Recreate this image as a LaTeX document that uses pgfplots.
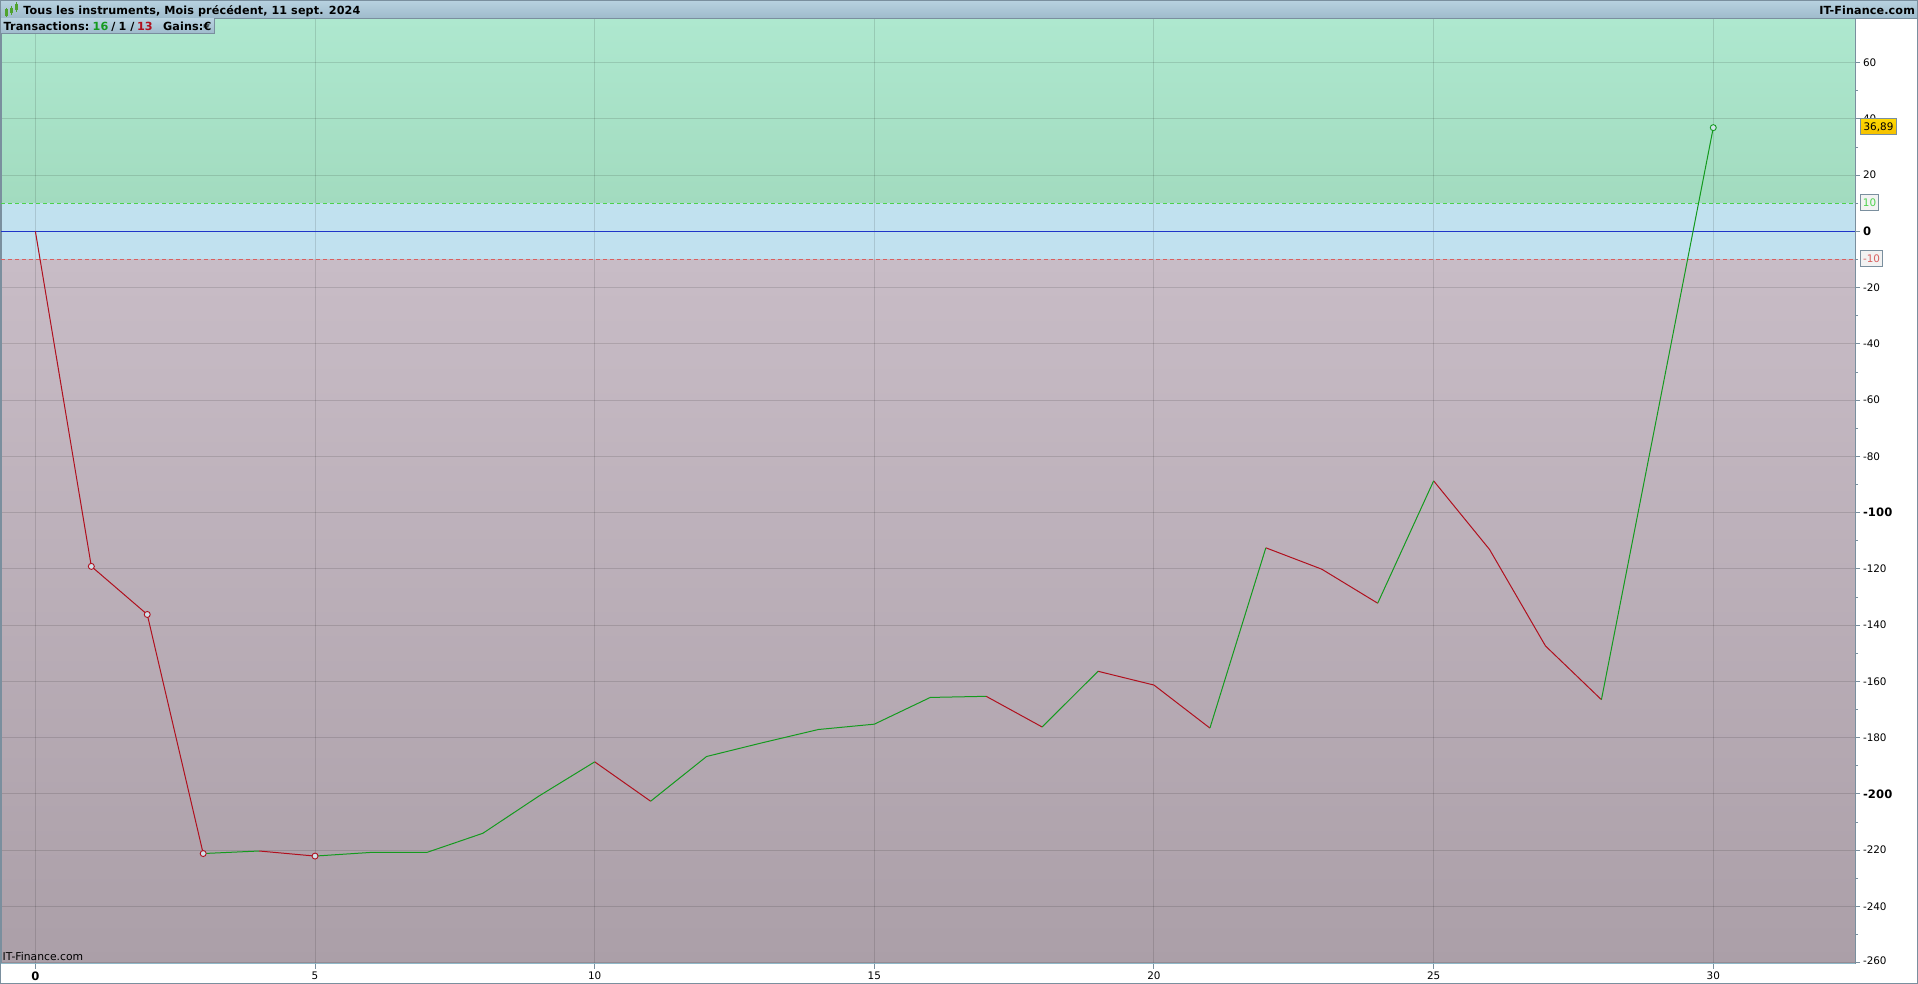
\documentclass[border=0pt]{standalone}
\usepackage{fontspec}
\setmainfont[BoldFeatures={LetterSpace=0.9}]{DejaVu Sans}
\usepackage{pgfplots}
\pgfplotsset{compat=1.18}

\definecolor{frame}{HTML}{7A8F9E}
\definecolor{barTop}{HTML}{B8D2E0}
\definecolor{barBot}{HTML}{9FBBCC}
\definecolor{upTop}{HTML}{AEE8CF}
\definecolor{upBot}{HTML}{A2DBBF}
\definecolor{mid}{HTML}{C1E1EF}
\definecolor{dnTop}{HTML}{C8BCC6}
\definecolor{dnMid}{HTML}{B9ADBA}
\definecolor{dnBot}{HTML}{AB9FA8}
\definecolor{lineUp}{HTML}{149A1E}
\definecolor{lineDn}{HTML}{B0101E}
\definecolor{zero}{HTML}{1F35C8}
\definecolor{limUp}{HTML}{4CD24C}
\definecolor{limDn}{HTML}{D96060}
\definecolor{markFill}{HTML}{CFE2EA}
\definecolor{icon}{HTML}{4FA32F}
\definecolor{baseLine}{HTML}{8FB8C8}
\definecolor{goldTop}{HTML}{FFD900}
\definecolor{goldBot}{HTML}{F5C000}

\newcommand{\smallfont}{\fontsize{5.2}{6}\selectfont}
\newcommand{\headfont}{\fontsize{5.6}{6}\selectfont\bfseries}
\newcommand{\bignum}[1]{{\fontsize{5.8}{6}\selectfont\bfseries #1}}

\begin{document}
\begin{tikzpicture}
\begin{axis}[
    at={(0.5pt,10.1pt)}, anchor=south west,
    scale only axis, width=927pt, height=472.65pt,
    set layers,
    xmin=-0.615, xmax=32.534, ymin=-260.4, ymax=75.7,
    xtick={0,5,...,30},
    xticklabels={\bignum{0},5,10,15,20,25,30},
    ytick={60,40,20,0,-20,-40,-60,-80,-100,-120,-140,-160,-180,-200,-220,-240,-260},
    yticklabels={60,40,20,\bignum{0},-20,-40,-60,-80,\bignum{-100},-120,-140,-160,-180,\bignum{-200},-220,-240,\raisebox{1.8pt}{-260}},
    minor y tick num=1,
    xtick pos=bottom, ytick pos=right, yticklabel pos=right,
    tick align=outside,
    major tick length=2.5pt, minor tick length=1.5pt,
    tick style={frame, line width=0.5pt},
    axis line style={frame, line width=0.5pt},
    grid=major,
    grid style={black, opacity=0.12, line width=0.5pt},
    tick label style={font=\smallfont, inner sep=0pt},
    xticklabel style={yshift=-1.5pt},
    yticklabel style={xshift=1.3pt},
    clip=true,
]
% bands
\addplot[on layer=axis background, draw=none, top color=upTop, bottom color=upBot]
    coordinates {(-0.615,75.7) (32.534,75.7) (32.534,10) (-0.615,10)} --cycle;
\addplot[on layer=axis background, draw=none, fill=mid]
    coordinates {(-0.615,10) (32.534,10) (32.534,-10) (-0.615,-10)} --cycle;
\addplot[on layer=axis background, draw=none, top color=dnTop, middle color=dnMid, bottom color=dnBot]
    coordinates {(-0.615,-10) (32.534,-10) (32.534,-260.4) (-0.615,-260.4)} --cycle;

% limits
\addplot[limUp, line width=0.6pt, dash pattern=on 2.2pt off 1.3pt] coordinates {(-0.615,10) (32.534,10)};
\addplot[limDn, line width=0.6pt, dash pattern=on 2.2pt off 1.3pt] coordinates {(-0.615,-10) (32.534,-10)};
\addplot[zero, line width=0.55pt] coordinates {(-0.615,0) (32.534,0)};

% equity curve, falling and rising parts
\addplot[lineDn, line width=0.5pt, unbounded coords=jump] coordinates {
    (0,0) (1,-119.1) (2,-136.2) (3,-221.2) (3.5,nan)
    (4,-220.3) (5,-222.1) (5.5,nan)
    (10,-188.6) (11,-202.6) (11.5,nan)
    (17,-165.3) (18,-176.2) (18.5,nan)
    (19,-156.4) (20,-161.3) (21,-176.6) (21.5,nan)
    (22,-112.5) (23,-120.1) (24,-132.2) (24.5,nan)
    (25,-88.7) (26,-113.1) (27,-147.4) (28,-166.5)
};
\addplot[lineUp, line width=0.5pt, unbounded coords=jump] coordinates {
    (3,-221.2) (4,-220.3) (4.5,nan)
    (5,-222.1) (6,-220.8) (7,-220.8) (8,-214.0) (9,-200.8) (10,-188.6) (10.5,nan)
    (11,-202.6) (12,-186.7) (13,-181.8) (14,-177.1) (15,-175.2) (16,-165.7) (17,-165.3) (17.5,nan)
    (18,-176.2) (19,-156.4) (19.5,nan)
    (21,-176.6) (22,-112.5) (22.5,nan)
    (24,-132.2) (25,-88.7) (25.5,nan)
    (28,-166.5) (29,-65) (30,36.89)
};
% trade markers
\addplot[only marks, mark=*, mark size=1.5pt, mark options={draw=lineDn, fill=markFill, line width=0.45pt}]
    coordinates {(1,-119.1) (2,-136.2) (3,-221.2) (5,-222.1)};
\addplot[only marks, mark=*, mark size=1.5pt, mark options={draw=lineUp, fill=markFill, line width=0.45pt}]
    coordinates {(30,36.89)};
\end{axis}

% everything below in reference pixels, y downward
\begin{scope}[shift={(0pt,492pt)}, x=0.5pt, y=-0.5pt]
% header bar
\shade[top color=barTop, bottom color=barBot] (0,0) rectangle (1918,18);
\draw[frame, line width=0.5pt] (0,18.3) -- (1918,18.3);
\draw[frame, line width=0.5pt] (0,0.3) -- (1918,0.3);
\foreach \xa/\ya/\yb/\yc/\yd in {6.5/8.3/9.3/16/17.3, 11.5/6/8/13/15, 16.3/2/4/10/12}{
    \draw[icon, line width=0.5pt] (\xa,\ya) -- (\xa,\yd);
    \fill[icon] (\xa-1.6,\yb) rectangle (\xa+1.6,\yc);
}
\node[anchor=base west, inner sep=0pt, font=\headfont] at (23,14.6) {Tous les instruments, Mois précédent, 11 sept. 2024};
\node[anchor=base east, inner sep=0pt, font=\headfont] at (1915.3,14.6) {IT-Finance.com};

% stats box
\shade[top color=barTop, bottom color=barBot] (1,19) rectangle (214.3,33.3);
\draw[frame, line width=0.5pt] (214.3,18.5) -- (214.3,33.3) -- (1,33.3);
\begin{scope}[every node/.style={anchor=base west, inner sep=0pt, font=\headfont}]
\node at (3.3,30.6) {Transactions:};
\node[text=lineUp] at (92.3,30.6) {16};
\node at (111,30.6) {/};
\node at (118.3,30.6) {1};
\node at (130,30.6) {/};
\node[text=lineDn] at (136.7,30.6) {13};
\node at (162.7,30.6) {Gains:};
\node at (203.3,30.6) {€};
\end{scope}

% watermark
\node[anchor=base west, inner sep=0pt, font=\fontsize{5.4}{6}\selectfont] at (2.3,961) {IT-Finance.com};

% bottom edge of the plot and outer frame
\draw[baseLine, line width=0.5pt] (1,964) -- (1855,964);
\draw[frame, line width=0.9pt] (0.4,0) -- (0.4,983.5) -- (1917.5,983.5) -- (1917.5,0);

% value boxes
\draw[frame, line width=0.5pt, fill=white!95!black] (1860.3,194.3) rectangle (1878.7,210.7);
\node[text=limUp, inner sep=0pt, font=\smallfont] at (1869.5,202.8) {10};
\draw[frame, line width=0.5pt, fill=white!95!black] (1860.3,250.3) rectangle (1882.7,266.7);
\node[text=limDn, inner sep=0pt, font=\smallfont] at (1871.5,258.8) {-10};
\shade[top color=goldTop, bottom color=goldBot] (1860.3,118.3) rectangle (1896.7,134.3);
\draw[frame, line width=0.5pt] (1860.3,118.3) rectangle (1896.7,134.3);
\node[inner sep=0pt, font=\smallfont] at (1878.5,126.8) {36,89};
\end{scope}
% page is exactly the reference's size
\pgfresetboundingbox
\path[use as bounding box] (0,0) rectangle (959pt,492pt);
\end{tikzpicture}
\end{document}
